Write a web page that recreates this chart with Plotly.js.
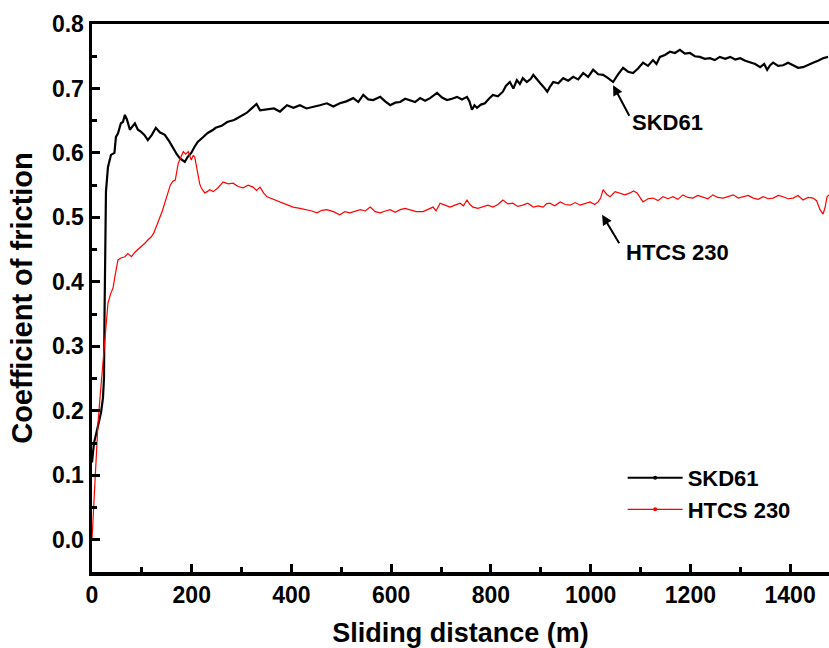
<!DOCTYPE html>
<html>
<head>
<meta charset="utf-8">
<script src="https://cdn.plot.ly/plotly-3.0.1.min.js"></script>
<style>html,body{margin:0;padding:0;background:#fff;}#chart{width:829px;height:648px;}</style>
</head>
<body>
<div id="chart"></div>
<script>
var skdX = [0,4,10,18,22,24,25,26,28,32,38,45,48,52,58,62,66,70,76,82,86,92,98,105,112,120,128,136,146,155,162,170,176,186,192,199,206,212,222,232,243,248,260,271,285,297,310,323,330,337,351,365,377,391,404,417,430,443,457,471,484,497,510,524,534,544,554,564,578,588,598,608,618,628,638,648,658,668,678,692,702,712,722,732,742,752,757,762,767,772,780,788,796,804,814,824,830,838,845,852,858,864,872,880,885,892,899,906,913,918,925,935,945,955,965,975,985,995,1005,1015,1025,1035,1045,1055,1065,1075,1085,1095,1105,1115,1125,1132,1139,1149,1159,1169,1179,1189,1199,1209,1219,1229,1239,1249,1259,1270,1280,1290,1300,1310,1320,1330,1340,1348,1354,1360,1366,1376,1386,1396,1406,1416,1426,1436,1446,1456,1466,1476];
var skdY = [0.12,0.15,0.17,0.197,0.22,0.25,0.34,0.45,0.54,0.578,0.597,0.60,0.625,0.63,0.646,0.648,0.659,0.652,0.636,0.642,0.646,0.636,0.633,0.628,0.62,0.628,0.639,0.632,0.628,0.618,0.608,0.598,0.592,0.586,0.594,0.60,0.61,0.617,0.624,0.631,0.636,0.639,0.642,0.648,0.651,0.656,0.662,0.671,0.676,0.666,0.667,0.669,0.664,0.674,0.670,0.674,0.669,0.671,0.674,0.677,0.672,0.677,0.680,0.685,0.679,0.690,0.683,0.682,0.687,0.680,0.674,0.678,0.679,0.684,0.682,0.679,0.685,0.681,0.685,0.693,0.686,0.682,0.684,0.687,0.683,0.687,0.680,0.667,0.674,0.670,0.675,0.677,0.684,0.690,0.688,0.695,0.704,0.710,0.700,0.713,0.707,0.716,0.710,0.715,0.721,0.714,0.708,0.702,0.695,0.702,0.710,0.708,0.716,0.712,0.718,0.714,0.724,0.718,0.729,0.722,0.721,0.716,0.710,0.722,0.732,0.726,0.724,0.731,0.740,0.735,0.744,0.738,0.749,0.752,0.757,0.755,0.760,0.754,0.755,0.750,0.749,0.746,0.747,0.744,0.749,0.746,0.749,0.745,0.747,0.743,0.741,0.738,0.733,0.738,0.729,0.736,0.740,0.735,0.736,0.740,0.736,0.732,0.733,0.737,0.740,0.743,0.747,0.749];

var htcsX = [0,3,5,8,12,16,19,23,26,29,32,38,42,46,50,52,58,66,72,79,86,92,99,106,112,119,124,129,136,141,146,152,157,162,167,173,178,183,188,193,199,203,206,210,213,216,219,226,231,236,243,253,263,273,283,293,303,313,323,330,337,344,351,364,377,390,403,417,431,441,451,461,471,484,497,507,517,528,538,548,558,568,578,588,598,608,618,628,638,650,664,674,684,690,698,708,718,728,738,745,752,758,764,774,784,794,804,814,824,834,844,854,864,874,885,895,905,911,918,928,939,949,959,969,979,989,999,1008,1015,1020,1025,1032,1039,1049,1059,1069,1079,1086,1093,1099,1105,1115,1125,1135,1145,1155,1165,1175,1185,1195,1205,1215,1225,1235,1245,1255,1266,1276,1286,1296,1306,1316,1326,1336,1346,1356,1366,1376,1386,1396,1406,1416,1426,1436,1446,1453,1460,1466,1470,1474,1478];
var htcsY = [0.0,0.05,0.078,0.13,0.18,0.22,0.25,0.28,0.31,0.34,0.367,0.383,0.39,0.408,0.425,0.434,0.437,0.439,0.444,0.439,0.446,0.45,0.454,0.46,0.465,0.47,0.476,0.485,0.50,0.51,0.522,0.537,0.55,0.556,0.558,0.584,0.592,0.602,0.598,0.602,0.589,0.596,0.594,0.578,0.563,0.552,0.546,0.538,0.54,0.543,0.54,0.546,0.555,0.552,0.553,0.548,0.546,0.550,0.547,0.542,0.547,0.538,0.532,0.528,0.524,0.519,0.516,0.514,0.512,0.510,0.507,0.511,0.512,0.509,0.504,0.509,0.507,0.510,0.512,0.510,0.516,0.509,0.507,0.510,0.512,0.508,0.512,0.514,0.512,0.509,0.509,0.512,0.516,0.510,0.522,0.519,0.516,0.519,0.522,0.518,0.527,0.520,0.516,0.514,0.516,0.519,0.516,0.520,0.527,0.521,0.522,0.517,0.519,0.522,0.516,0.518,0.516,0.521,0.522,0.518,0.524,0.520,0.519,0.523,0.519,0.521,0.524,0.520,0.524,0.530,0.543,0.536,0.532,0.540,0.538,0.535,0.538,0.541,0.538,0.531,0.524,0.529,0.530,0.526,0.532,0.529,0.532,0.528,0.535,0.531,0.530,0.534,0.532,0.529,0.535,0.531,0.530,0.533,0.535,0.530,0.532,0.534,0.530,0.528,0.532,0.529,0.530,0.534,0.532,0.529,0.530,0.534,0.527,0.531,0.530,0.526,0.512,0.505,0.515,0.532,0.535];

var seriesNames = ['SKD61', 'HTCS 230'];
var xTitle = 'Sliding distance (m)';
var yTitle = 'Coefficient of friction';

var FONT = 'Liberation Sans, Arial, sans-serif';

var traces = [
  {x: skdX, y: skdY, mode: 'lines', line: {color: '#000000', width: 2.2}, showlegend: false, hoverinfo: 'skip'},
  {x: htcsX, y: htcsY, mode: 'lines', line: {color: '#ff0000', width: 1.2}, showlegend: false, hoverinfo: 'skip'},
  {x: [null], y: [null], mode: 'lines+markers', name: seriesNames[0], line: {color: '#000000', width: 2}, marker: {color: '#000000', size: 4}},
  {x: [null], y: [null], mode: 'lines+markers', name: seriesNames[1], line: {color: '#ff0000', width: 1.2}, marker: {color: '#ff0000', size: 4}}
];

var layout = {
  width: 829, height: 648,
  margin: {l: 92, r: 0, t: 24, b: 76, pad: 0},
  paper_bgcolor: '#ffffff', plot_bgcolor: '#ffffff',
  font: {family: FONT, color: '#000000'},
  showlegend: true,
  legend: {x: 0.72, xanchor: 'left', y: 0.21, yanchor: 'top', bgcolor: 'rgba(0,0,0,0)',
    font: {family: FONT, size: 22, color: '#000', weight: 'bold'}, itemwidth: 55, tracegroupgap: 0},
  xaxis: {
    range: [0, 1478], showgrid: false, zeroline: false,
    showline: true, linewidth: 3.5, linecolor: '#000', mirror: true,
    ticks: 'inside', ticklen: 8, tickwidth: 3, tickcolor: '#000', dtick: 200, tick0: 0,
    minor: {ticks: 'inside', ticklen: 5, tickwidth: 3, dtick: 100, tickcolor: '#000'},
    tickfont: {family: FONT, size: 23, weight: 'bold'},
    title: {text: xTitle, font: {family: FONT, size: 27, weight: 'bold'}, standoff: 18}
  },
  yaxis: {
    range: [-0.05, 0.8], showgrid: false, zeroline: false,
    showline: true, linewidth: 3.5, linecolor: '#000',
    ticks: 'inside', ticklen: 8, tickwidth: 3, tickcolor: '#000', dtick: 0.1, tick0: 0,
    minor: {ticks: 'inside', ticklen: 5, tickwidth: 3, dtick: 0.05, tickcolor: '#000'},
    tickformat: '.1f', ticklabelstandoff: 0,
    tickfont: {family: FONT, size: 23, weight: 'bold'},
    title: {text: yTitle, font: {family: FONT, size: 29, weight: 'bold'}, standoff: 12}
  },
  annotations: [
    {x: 1045, y: 0.705, xref: 'x', yref: 'y', text: '', showarrow: true, ax: 17, ay: 32, arrowhead: 2, arrowsize: 1, arrowwidth: 2, arrowcolor: '#000', standoff: 0},
    {x: 1155, y: 0.648, xref: 'x', yref: 'y', text: seriesNames[0], showarrow: false, font: {family: FONT, size: 22, weight: 'bold', color: '#000'}},
    {x: 1023, y: 0.504, xref: 'x', yref: 'y', text: '', showarrow: true, ax: 18, ay: 30, arrowhead: 2, arrowsize: 1, arrowwidth: 2, arrowcolor: '#000', standoff: 0},
    {x: 1174, y: 0.445, xref: 'x', yref: 'y', text: seriesNames[1], showarrow: false, font: {family: FONT, size: 22, weight: 'bold', color: '#000'}}
  ]
};

Plotly.newPlot('chart', traces, layout, {displayModeBar: false, staticPlot: true});
</script>
</body>
</html>
